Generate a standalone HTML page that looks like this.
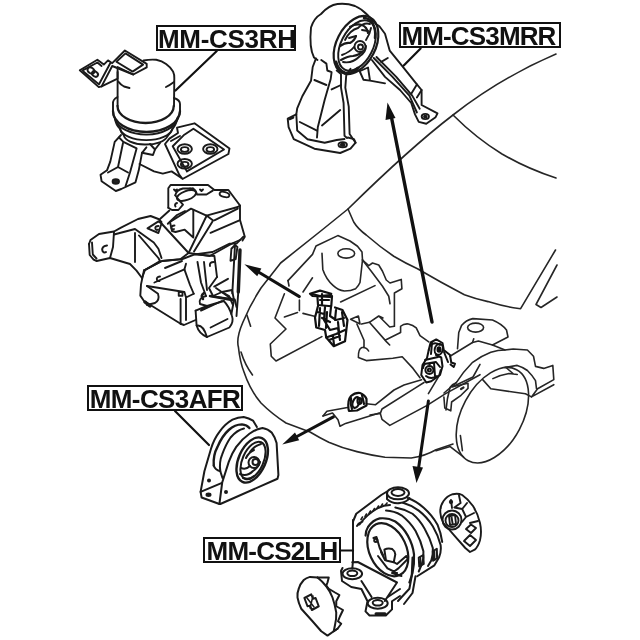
<!DOCTYPE html>
<html><head><meta charset="utf-8"><title>Engine mounts</title>
<style>
html,body{margin:0;padding:0;background:#fff;}
body{width:640px;height:640px;overflow:hidden;position:relative;font-family:"Liberation Sans",sans-serif;}
svg{position:absolute;left:0;top:0;filter:blur(0.45px);}
.lbl{position:absolute;box-sizing:border-box;border:2px solid #111;background:#fff;color:#111;font-weight:bold;font-size:26px;line-height:24.4px;text-align:center;white-space:nowrap;letter-spacing:-0.3px;filter:blur(0.4px);}
</style></head><body>
<svg width="640" height="640" viewBox="0 0 640 640" fill="none" stroke="#1a1a1a" stroke-width="1.9" stroke-linecap="round" stroke-linejoin="round">
<!--CAR-->
<g stroke-width="1.600" stroke="#262626">
<!-- hood / windshield lines -->
<path d="M556,54 Q500,78 453,115 Q410,148 348,209 L322,230 L280.600,263 L261,288 Q250,305 243,322 Q236,338 238.400,347 Q240,362 244,372 Q250,390 261,403 Q272,414 286,423 L310,432 Q320,438 328.750,442.200 Q342,448 356.900,451.600 Q370,455 385,457.200 L411.250,458 Q425,456 436,449.700 L453,444"/>
<path d="M453,115 Q476,138 502,154 Q528,169 556,178"/>
<path d="M348,209 L353.700,222 Q358,229 366.250,235 Q380,247 393.750,256.250 Q405,263 417.500,268.750 Q440,282 464.400,294.700 Q476,299 488,301.600 Q505,307 520.600,308.700 L555.500,250"/>
<path d="M557,265 L536,304.500 L541,307.500 L557,297"/>
<path d="M241,352 Q245,365 252.500,375"/>
<!-- engine bay outline -->
<path d="M288,280.600 L312.500,254.400 L316,246 L337.800,235.600 L350,241 L357.500,246.250 L362,252 L362.500,260"/>
<path d="M362.500,260 L368.750,265.600 L372.500,263 L378.750,265 L382.500,271.250 L386.250,280 L390,283 L401.250,279.400 L401.900,288.750 L394.400,293 L394.400,326.250"/>
<path d="M362.500,260 L371.250,271.250 L382.500,286.250 L388.750,296.250 L390,303.750"/>
<path d="M288,280.600 L289,286 M284.400,293.750 L275,318 L286,329 L270.300,344 L271.250,356.250 L276,361 L321.900,336.600"/>
<path d="M246.900,315 L250.600,326.250"/>
<path d="M322,253.400 L322.800,269.400 Q326,279 333,285.300 Q338,290 344.400,291 Q351,291 355.600,288.750 Q358.500,286 360,282.500 L362.500,260"/>
<ellipse cx="346.250" cy="253.400" rx="8.400" ry="4.700"/>
<path d="M312.500,277.800 L303,292"/>
<path d="M299.400,300 L299.400,310.600 M284.400,317 L297.500,312.500 M303,313.400 L314.400,316.250"/>
<path d="M340.600,302 L375,285.600"/>
<path d="M350.600,319.200 L358.400,316 L360,324 Z"/>
<path d="M361.600,324 L369.400,322.300 L378.750,316 L383,318 M378.750,316 L389.700,327 L394.400,326.250"/>
<path d="M369.400,322.300 L386.600,341.900 L389.700,345 M385,340.300 L400.600,332.500 L400.600,326.250 Q404,323.500 408.400,324 Q413,325 416.250,327.800 L420,335.600 L428.750,341.900"/>
<path d="M356.900,324 L364,340.300 L364,346.600 M368.600,351 Q366.500,347 362,347.500 Q358,349 358.400,357.500 L366.250,360.600 L392.800,358.300 L402.200,356.700 L413,368.400 L420,377.800"/>
<!-- front crossmember -->
<path d="M323,416 L326.900,411.250 L347.500,407.500 M366.250,403.750 L375.600,404.700 L394,390 L404,385 L421.600,379.800"/>
<path d="M323,416 L332.500,413 L338,419.700 L340,426.250 L345.600,423.400 L379.400,413"/>
<path d="M380.300,413.400 L382,409 L414.700,388.400 L424,382.500"/>
<path d="M370,415 L380.300,413.400 L382,419.400 L389.800,425.400 L426.700,405.600 L445.600,393.600 L480,374.700"/>
<!-- right rails -->
<path d="M428.400,393.600 L438.750,376.400 L440.500,370"/>
<path d="M443.900,397 L444.800,408 L450.800,410.800 L451.600,402 L461,395.300 L468,388.400 L468,383.300 L452.500,386.700"/>
<path d="M452.500,386.700 L473,377 L480,364.400"/>
<path d="M461,389 l2.500,-1.500" stroke-width="2.200"/>
<!-- strut tower -->
<path d="M457.500,348.750 L458.750,332.500 L461.500,325.600 Q466,320 472.800,318.600 L492.500,320 Q502,324 506.500,330 L508,337 L492.500,345 L478.400,341 L472.500,342.500"/>
<ellipse cx="475.600" cy="327.600" rx="8" ry="4.500"/>
<path d="M450,356.250 L472.500,342.500 L473.750,338.750"/>
<!-- fender -->
<path d="M492.500,345 L505,350 L513.200,349 L527.400,350 L533.500,356.250 L535.500,366.400 L543.700,368.400 L552.800,365.400 L553.800,379.600 L537.600,388.750 L531.500,396.900 L553.800,384.700"/>
<path d="M446,410 Q447,398 450,387.500 Q452,384 456.300,382.700 Q463,372 472.600,362.300 Q481,356 490.800,352.200 Q498,350 505,350"/>
<path d="M456.300,382.700 L444,393"/>
<path d="M505,367.400 L517.250,365.400 Q523,367 527.400,370.500 Q532,375 535.500,380.600 L536.500,388.750"/>
<path d="M492.900,378.600 Q500,375 509,373.500 L517.250,374.500 M506,367.500 L513,373.500"/>
<path d="M460.400,435.500 L462.400,450.700 M436,450.700 L450.200,446.600 L463.400,456.800"/>
<!-- wheel -->
<ellipse cx="492.400" cy="415.200" rx="51.500" ry="30.500" transform="rotate(-62 492.400 415.200)"/>
<path d="M482.700,379.600 L490.800,388.750 L525.400,393.800 L531.500,396.900"/>
</g>
<!-- center mount -->
<g stroke-width="2.200" stroke="#111">
<path d="M310,293.750 L320,290.600 L331.250,293.750 L330,297 L312.500,296 Z"/>
<path d="M317.500,297.500 L318,305 L331.250,306.250 L332,296 M320,300 L329,300 M322,294 L322,304"/>
<path d="M318,306 L315,317.500 L316.250,327.500 L325,330 L326.250,337.500 L333.750,346.250 L345,341.250 L347.500,320 L342.500,310 L335,307.500"/>
<path d="M320,308 L319,326 M325,307 L324,320 L330,330 L338,328 L340,340 M331,307 L330,316 L336,320 L344,318 M326.250,337.500 L336,334 L345,330 M322,318 L330,322 M336,310 L335,320 M333,336 L334,345 M317,312 L324,314 M327,312 L326,328 M338,322 L339,332 M342,312 L344,326 M329,340 L340,336 M312,294 L320,296 L330,295"/>
</g>
<!-- right mount -->
<g stroke-width="2" stroke="#111">
<path d="M428.750,350 L430.600,342.500 L436.250,339.400 L442.500,343 L443.750,350 L450,355 L451.250,362.500 L455,363.750 L453.750,367 L450.500,364.500"/>
<ellipse cx="438.750" cy="349.400" rx="4" ry="5.500" transform="rotate(15 438.750 349.400)"/>
<ellipse cx="439" cy="349.500" rx="1.500" ry="2.200" fill="#111"/>
<path d="M432,343 L431,354 M428.750,350 L427,358 L422.500,365 L421.250,375 L426.250,382.500 L431.250,381.250 L440,375 L442.500,366.250 L441.250,357.500 L436,355"/>
<circle cx="429.400" cy="370" r="4"/><circle cx="429.400" cy="370" r="1.500"/>
<path d="M425,360 L438,357 M424,364 L436,362 L440,367 M434,363 L435,376 M444,352 L448,362 M430,346 Q434,341 440,345 M426,376 Q431,380 437,376 M423,368 Q424,362 430,364"/>
</g>
<!-- front mount -->
<g stroke-width="2.200" stroke="#111">
<path d="M348.500,409 Q347.500,400 351,396 Q355,392.500 360,393 Q365,395 366.500,399 L366.500,405.500 L357,410.500 L349,411 Z"/>
<ellipse cx="356" cy="402.500" rx="3.200" ry="5.500" transform="rotate(20 356 402.500)"/>
<ellipse cx="359.500" cy="401" rx="2" ry="2.800"/>
<path d="M351,398 Q350,404 352,409 M362,395 L364,404"/>
</g>
<!--/CAR-->
<!--RH-->
<g>
<!-- top bracket -->
<path d="M79.800,70.200 L97.400,59.700 L103.800,64.600 L108,60.400 L112.200,63.200 L124.900,50.500 L146.700,63.900 L146.700,67.400 L133.300,74.500 L117.600,67 L117.600,78.700 L101.600,86.400 L98.800,87.100 Z"/>
<path d="M82.700,70.300 L97.400,62.500 L101.600,66 M83.400,71.600 L98.800,84.300 M101.600,86.400 L112.200,66 L133.300,74.500 M99,84.300 L110.100,63.500"/>
<path d="M116.400,61.800 L125.500,53.400 L143.100,64.600 L132.600,71.600 Z"/>
<ellipse cx="91" cy="70.500" rx="3.800" ry="2.800" transform="rotate(35 91 70.500)" stroke-width="2"/>
<ellipse cx="95" cy="74" rx="3.200" ry="2.400" transform="rotate(35 95 74)" stroke-width="2"/>
<!-- cylinder -->
<path d="M117.600,72 L117.600,106 M143.600,60.500 Q150,59.300 156.300,59.800 Q162,61 166.100,64 Q171,67.500 173.100,71.700 Q174.500,75 174.300,78 L174,106"/>
<path d="M118.300,81.600 Q121,85 124,86.500 L129.500,88 M174,82 Q170,85 166,87"/>
<path d="M117.500,97 Q112.500,99.500 113,104 L113,111 Q113,116 115,118.750 Q116,125 120,128.750 Q121,133 123.750,135"/>
<path d="M174,98 Q180,100 180,104 L180,111 Q180,115 177.500,118 Q176,125 172.500,128.750 Q171,133 167.500,136"/>
<path d="M117.500,106 A28.100,17 0 0 0 173.750,106" stroke-width="2.300"/>
<path d="M113,111 A33.500,21 0 0 0 180,111" stroke-width="2.300"/>
<path d="M115,118.750 A31.500,18.500 0 0 0 177.500,118"/>
<path d="M120,128.750 A26.500,13.200 0 0 0 172.500,128.750"/>
<path d="M123.750,135 A22,10 0 0 0 167.500,136"/>
<!-- left leg -->
<path d="M121,135 L114.700,141.900 L110.300,161.600 L107,170.300 L100.500,174.700 L101.600,181.250 L115.800,191 L121.250,189 L135.500,182.300 L138.750,170.300 L142,152.800 L146.400,147.300"/>
<path d="M119,137.500 L123.400,141.900 L136.600,148.400 L130,172.500 L125.600,186"/>
<path d="M123,143 L118,167 L108,172.500 M118,167 L128,172.500"/>
<ellipse cx="115.800" cy="181.500" rx="3.200" ry="2.300" fill="#222"/>
<!-- middle -->
<path d="M142,152.800 L153,155 L155,149.500 L150,144 M139.500,164 L154,171.400 L162.800,173.600 L171.600,171.400 L181.400,178"/>
<path d="M160,143 L155,149.500"/>
<!-- right plate -->
<path d="M177,127.700 L194.500,123.300 L229.500,148.400 L228.400,154 L182.500,179 L179.200,174.700 L165,144 L169.400,138.600 L178,133 L177,127.700"/>
<path d="M183.600,135.300 L193.400,128.750 L224,149.500 L186.900,171.400 L172.700,146.250 Z"/>
<path d="M171,141 L180,136"/>
<ellipse cx="184.700" cy="149" rx="7.200" ry="4.800"/><ellipse cx="184.700" cy="149.500" rx="3.800" ry="2.400"/>
<ellipse cx="210.300" cy="149" rx="7.200" ry="4.800"/><ellipse cx="210.300" cy="149.500" rx="3.800" ry="2.400"/>
<ellipse cx="184.700" cy="163.750" rx="7.200" ry="4.800"/><ellipse cx="184.700" cy="164.250" rx="3.800" ry="2.400"/>
</g>
<!--/RH-->
<!--BRK-->
<g>
<!-- left ear -->
<path d="M89,244 L90.500,240 L99,234 L114,231.500 L121,227.700 L138,219 L150.600,216 L158.400,219 L161.500,222"/>
<path d="M89,244 L89.700,255 L93.600,259.700 L96.700,261 L110,258 L130,264 L136.500,270.600 L142,278"/>
<path d="M92,242.500 L92.800,254.500 L96.500,258.500 M114,232 L113,247 L110,258"/>
<path d="M107,245.500 Q101,246.500 102.500,251 Q104,253.500 106,252" stroke-width="2"/>
<path d="M114,234.500 L135,229 L153.750,242.500 L158.400,248.750 L161.500,258 M135,233 L135,262 M139,235.500 L158.400,258 L160,261 L145,270"/>
<path d="M147.500,228.400 L158.400,221.400 L161.500,223.500 L158.400,233 Z"/>
<path d="M158.500,226 Q154.500,226 155.500,229 Q156.500,230.500 158,229.500"/>
<path d="M160,219 L169.400,210.500 M167.800,223.750 L177,215 L185,211"/>
<path d="M174.500,225.500 Q171,225.500 171.500,228.500 Q172.500,230 174,229"/>
<!-- upper plate -->
<path d="M168.300,207.800 L168.300,188.300 L170.600,185 L208,185 L214.400,190 L228.400,190 L240,205.500 L240,220 L244.800,236.700 L242.500,240.600"/>
<path d="M168.300,207.800 L172,210 L178.400,210 L183,204.700 L178,199 L175.300,195.300"/>
<ellipse cx="186.500" cy="195.500" rx="10" ry="4.500" transform="rotate(-20 186.500 195.500)"/>
<path d="M175.300,195.300 Q176,190 183,188.500 L193,188.500 Q196,190 197,194.500 L206.500,194.500 L212.800,190.600"/>
<path d="M174,189.500 l1.500,1.500 l1.500,-1.500 M190,188.500 l1.500,1.500 l1.500,-1.500 M200,189.500 l1.500,1.500 l1.500,-1.500"/>
<ellipse cx="224.500" cy="194.500" rx="5" ry="2.500" transform="rotate(15 224.500 194.500)"/>
<path d="M177,203 Q174,204 175.500,206.500"/>
<!-- box -->
<path d="M170,222 L191,208.600 L206.500,215.600 L237.800,207 L240,205.500"/>
<path d="M206.500,215.600 L212.800,220.300 M214.400,220.300 L237.800,208.600 M210.500,232.800 L239.400,220.300"/>
<path d="M193.300,210 L193.300,237.500 M170,222 L172,231 L175.500,232 L184.700,229.700 L193.300,237.500"/>
<path d="M206.500,216 L188.600,253 M212.800,221 L194,251.500"/>
<path d="M161.500,223.500 L188.600,253 L209.700,256 L233,243 L240,240"/>
<path d="M142,278 L145,270 L162,261 L180,259.400 L188.600,253"/>
<path d="M243.400,236.700 L236.500,243.600 L229.700,243.600 L212.500,252 L194.700,254.400"/>
<path d="M240,250 L238.300,292" stroke-width="3.400"/>
<path d="M238.300,292 L236.500,316"/>
<path d="M235,245 L232.300,293.400"/>
<path d="M231.400,248.750 L235,245 L237.400,247 L235.700,259 L230.500,260.800 Z"/>
<path d="M214.200,286.600 L228,278.800 M216,288 L233,300 M210,296 L234.800,299.500 L236.500,307"/>
<!-- lower arm -->
<path d="M144,270.300 L162,261 L182.500,259 L194.700,254.400 L214.400,256 L217,277"/>
<path d="M154.400,282.500 L184.400,269.400 L186,263.750 M165,268 L182,261"/>
<path d="M160,276.500 Q156,277 157,280 Q158,281.500 159.500,281"/>
<path d="M144,270.300 L141,284.400 L140.300,295.600 L144,301 L180.600,323.750 L184,325 L195.600,320"/>
<path d="M147,286 L158,293.750 Q160,300 155,303 L147,305" />
<path d="M145,302 L150,306" stroke-width="3.500"/>
<path d="M147,286 L184.400,292 L186,297.500 L193.750,293.750 M180.600,299 L180.600,324 M186,297.500 L186,320"/>
<path d="M178.750,292 l3.750,0 l0,3.750 l-3.750,0 Z"/>
<path d="M184.400,269.400 L190,285 L193.750,293.750 M197.500,262 L201,282.500 L206,296 M204,262 L207,290 M214,262 Q209,262 210,266"/>
<path d="M217,277 L209,288 L213,296 L222,292 L229,296 L233,305 M206,296 Q198,298 200,304 L207,306 L223.750,301"/>
<path d="M222,292 L232,290 L234,300 L231.400,314" />
<path d="M204,293 Q200,296 203,299 M210,296 L232,300" stroke-width="2.500"/>
<!-- bushing -->
<path d="M195.600,310.600 L196.600,325.600 Q199,334 207,337 L229.400,327.500 Q234,322 232,316 Q229,306 223.750,301"/>
<path d="M195.600,310.600 L207,306 M201,310.600 L221.900,301 M210.600,327.500 L227.500,319 M196.600,325.600 Q203,324 207,337"/>
</g>
<!--/BRK-->
<!--MRR-->
<g>
<!-- ring outer -->
<path d="M317.500,60 L314,57.500 Q309,48 311,27.500 Q314,18 321,14 Q329,5 337.500,4 Q347,3 355,6 Q362,9 367.500,15 L376,24"/>
<ellipse cx="356" cy="45" rx="31" ry="19.500" transform="rotate(-63 356 45)" stroke-width="2.200"/>
<ellipse cx="357" cy="45.500" rx="27" ry="16" transform="rotate(-63 357 45.500)"/>
<circle cx="360" cy="46.500" r="5.500"/><circle cx="360.500" cy="47" r="2.500"/>
<path d="M345,40 Q350,30 358,28 Q364,22 370,24 M342,55 Q350,52 354,47 M343,62 Q352,64 360,56 Q366,52 366,46 M366,40 Q370,34 371,28 M349,38 L356,36 M362,30 L368,31"/>
<path d="M364,18 Q370,18 373,24 Q376,30 375,38" stroke-width="2.500"/>
<path d="M336,62 Q338,70 345,73 Q352,74 358,68" stroke-width="3"/>
<path d="M350,27 Q356,23 362,25 Q367,27 368,33 M340,46 Q346,42 350,43 Q355,40 356,36 M341,60 Q348,56 353,56 Q359,55 362,52" stroke-width="2.200"/>
<!-- left leg -->
<path d="M316,58.400 L312.700,67 L311,80.800 L302.300,96.250 L297.200,108.300 L296.300,114.300 L287.700,118.600 L288.600,127.200 L293.750,139.200 L314.400,148.700 L340.200,153 L350.500,148.700 L355.600,142.700 L354,139.200 L347.900,137.500"/>
<path d="M296.300,114.300 L297.200,130.600 L307.500,139.200 L324.700,142.700 L336.700,140 L344.500,139"/>
<path d="M321.250,60 L326.400,63.600 L327.300,70.500 L331.600,72.200 L330.700,79 L324.700,99.700 L317.800,127.200 L317,137.500"/>
<path d="M314.400,80 L326.400,85 M299.800,122 L317,130.600 M322,125.500 L340.200,110 M331.600,89.400 L341,85"/>
<path d="M336.700,70.500 L341,73.900 L341,87.700 L343.600,103 L344.500,135.800 L347,138"/>
<path d="M350.500,68.750 L346.200,75.600 L345.300,87.700 L348.750,106.600 L349.600,134 L355.600,142.700"/>
<ellipse cx="342.700" cy="144.700" rx="4.200" ry="2.600"/><ellipse cx="342.700" cy="144.700" rx="1.800" ry="1.100" fill="#222"/>
<path d="M289.500,119 L293,117.500" stroke-width="2.600"/>
<!-- right arm -->
<path d="M376,24 L379.400,26.250 L385,33.750 L389.700,50.600 L401.900,65.600 L416.900,84.400 L421.600,90 L421.600,105 L437.500,113.400 L435.600,117.200 L426.250,123.750 L418.750,121.900 L415,114.400 L411.250,103 L400,90 L385,76.900 L371.900,60"/>
<path d="M373.750,58 L392.500,76.900 L409.400,95.600 L416.900,112.500 M376.500,57 L396.250,76.900 L412.200,95.600 L419.700,108.750"/>
<path d="M416.900,84.400 L411.250,93.750 M421.600,90 L416.900,97.500 M381.250,61.900 L387.800,58"/>
<ellipse cx="425.300" cy="116.500" rx="3.600" ry="2.600"/><ellipse cx="425.300" cy="116.500" rx="1.300" ry="0.900" fill="#222"/>
<path d="M359.700,71.250 L368,67.500 L370,80.600 L363.400,79.700 Z M370,80.600 L385,83.400"/>
</g>
<!--/MRR-->
<!--AFR-->
<g stroke-width="2">
<path d="M219.400,504 L222.200,482.500 L228.750,461.900 Q232,453 236.250,446.900 Q242,439 249.400,433.750 Q256,429 262.500,428 Q268,429 271.900,432.800 Q275,437 276.600,443 L278.400,475 L277.500,478.750 L220.300,504 Z"/>
<path d="M200.600,491.900 L204.400,471.250 L211,448.750 Q214,439 219.400,431.900 Q225,424 232.500,419.700 Q238,417 243.750,416.900 Q249,418 253,420.600 L256.900,427"/>
<path d="M200.600,491.900 L201.600,497.500 L219.400,504 M200.600,491.900 L222,482.800"/>
<path d="M213.750,465.600 Q213,455 217.500,446.900 Q222,436 228.750,430 Q235,424.500 241.900,424.400 Q247,425 249.400,428" stroke-width="2.400"/>
<path d="M220.300,471.250 Q219,462 222.200,454.400 Q226,444 230.600,437.500 Q237,430 244,428.500" />
<path d="M213.750,465.600 Q215,470 220.300,471.250 L222.500,478"/>
<ellipse cx="252.200" cy="460" rx="24" ry="13.500" transform="rotate(-66 252.200 460)" stroke-width="2.400"/>
<ellipse cx="253" cy="460.500" rx="20" ry="10.500" transform="rotate(-66 253 460.500)"/>
<circle cx="254" cy="462.500" r="5.500"/><circle cx="255.500" cy="462" r="3"/>
<path d="M241,468 Q246,470 250,466 M240,474 Q247,477 253,471 Q258,468 260,462 M250,452 Q254,446 261,444 M246,458 Q249,452 254,450 M243,478 Q250,480 254,476"/>
<circle cx="209" cy="480.500" r="1" fill="#111"/><ellipse cx="208.500" cy="494.800" rx="2" ry="1.200" fill="#111"/><circle cx="226" cy="492" r="1" fill="#111"/>
</g>
<!--/AFR-->
<!--LH-->
<g stroke-width="2">
<!-- top boss -->
<ellipse cx="398" cy="493.300" rx="11" ry="6"/>
<ellipse cx="398" cy="492.500" rx="6.500" ry="3.500"/>
<path d="M387,494 L387,499 Q392,504 400,503 Q407,502 409.500,498"/>
<!-- left plate -->
<path d="M387,491.500 L381.250,495 L356.250,513.750 L353,521.500 L353,560.600 L352.300,568.500"/>
<path d="M353,520 L353,551"/>
<path d="M352.300,562.300 L357.800,562 L397,582.500 L384.800,601"/>
<path d="M357,526 Q359,523 362.500,521.500 M359.500,524.500 Q366,515 378,508 Q384,505 390,505"/>
<path d="M361,519.500 l1.500,-2.500 M365,516.500 l1.500,-2.500 M369,513.500 l1.500,-2.500 M373,511 l1.500,-2.500 M377,508.500 l1.500,-2.500 M381,506.500 l1.500,-2.500 M385.500,505 l1.500,-2" stroke-width="1.600"/>
<!-- face -->
<ellipse cx="387.800" cy="549.700" rx="28" ry="18.500" transform="rotate(65 387.800 549.700)" stroke-width="2.200"/>
<path d="M365.600,535.600 Q365.500,531 368,527 Q373,520 379.700,518.400 Q388,517.500 395.300,521.500 Q403,527 407.800,535.600 Q413,545 414,554.400 Q414.500,564 412.500,573 L409.400,582.500" stroke-width="2.200"/>
<path d="M386,510.600 Q394,511 401.500,515.300 Q410,522 415.600,531 Q421,541 423.400,551.250 Q424,558 421.900,563.750 L418.750,571.500"/>
<path d="M395.300,507.500 Q404,509 412.500,513.750 Q420,520 425,529.400 Q430,538 432.800,548 Q433.500,555 431.250,560.600 L428,566"/>
<path d="M403,502.800 Q411,505 418.750,510.600 Q427,517 432.800,526.250 Q438,535 440.600,545 Q441.500,552 439,557.500 L434.400,565.300 L417.200,576.250"/>
<path d="M407.800,498 Q416,501 423.400,507.500 Q432,515 437.500,524.700 Q441,533 442.200,541.900"/>
<path d="M418.750,557.500 l4.500,-2.500 l0.500,9 l-4.500,2.500 Z M432.800,551.250 l4,-2.500 l0.300,9.500 l-4,2.500 Z"/>
<path d="M420.500,557 l0.300,9 M434.500,551 l0.300,9" stroke-width="1.400"/>
<!-- inner face details -->
<circle cx="375.800" cy="540.300" r="1.600"/>
<path d="M373.400,538 L376.500,537 L379.700,548 L383,555"/>
<path d="M384.400,549.700 Q388,547.500 392.200,549 Q395,551 395.300,554.400 L393.750,562.200 L386,560.600 Z"/>
<path d="M378,556 L387.500,568.400 L397,573 M381,552 L385,560 M393.750,562.200 L397,564 L406.250,556 L407.800,559 L398.400,568.400 L392,573 L401.500,576"/>
<!-- arm -->
<path d="M412.500,557.500 L411.700,576.250 L409.400,588.750 L398,601 M415.500,576.250 L412.500,593 L404,604"/>
<!-- bottom-left boss -->
<ellipse cx="352.300" cy="573.800" rx="9.800" ry="5.500"/>
<ellipse cx="352.300" cy="573.300" rx="5" ry="2.800"/>
<path d="M342.500,568 L341,571 L342,581 L351.250,587 L361.400,589 L367.500,601.250 L365.500,611.400 L369.500,615.500 L385.800,615.500 L392,609.400 L392,601.250 L400,596"/>
<path d="M361.400,581 L371.600,597"/>
<ellipse cx="377.700" cy="603.300" rx="10" ry="5.500"/>
<ellipse cx="377.700" cy="602.800" rx="5" ry="2.800"/>
<path d="M376,613.800 L385,613.800" stroke-width="3"/>
<path d="M387.800,597 L400,589"/>
</g>
<!-- bottom-left cover -->
<g stroke-width="2">
<path d="M317.500,577.500 L310,576.900 Q306,578 303.750,580 Q300,584 298.750,588.750 Q297,593 297.500,597.500 Q298.500,603 301.250,608.750 L312.500,621.250 L321.250,631.250 L327.500,635.600 L333.750,631.250 L337.500,628.750"/>
<path d="M317.500,577.500 L328.750,577.500 L327.500,582.500 L326.250,585.600 L328.750,588.750 L335,592.500 L339.400,595 L336.250,601.250 L336.250,606.250 L343,610 L340,616.250 L338,621.250 L341.250,623.750 L337.500,628.750 L333.750,631.250"/>
<path d="M317.500,577.500 Q322,581 326.250,586.250 Q330,591 332.500,597.500 Q335,605 336.250,612.500 Q336.500,619 335,625 L333.750,631.250"/>
<path d="M304.400,598 L311.250,594.400 L313,598.750 L315.600,598 L318.750,606.250 L311.900,610 L310,605.600 L307.500,606.250 Z"/>
<path d="M307,598 L314,607 M313,596 L310,608" stroke-width="1.500"/>
</g>
<!-- right small piece -->
<g stroke-width="1.900">
<path d="M440.300,512.200 Q440,506 443.400,501.250 Q447,496 452.800,494.200 Q458,493 462.200,495 Q468,499 473,506 Q478,514 480,523 Q482,532 480,540.300 Q478,547 474.700,549.700 L470,552 L465.300,548 L454.400,535.600 L443.400,523 Q440.500,518 440.300,512.200 Z"/>
<circle cx="452" cy="520" r="9.500"/><circle cx="452" cy="520.500" r="6.500"/>
<path d="M449,516 L455,515 L456,524 L450,525 Z M451.500,517 L452.500,523"/>
<path d="M459,495.500 L460.600,503 L454.400,507.500 L462.200,509 L467,503 M451,500 L452,508 M462.200,509 L466,517 L474,513 M466,517 L462,522 M470,523 L478,521"/>
<path d="M466,529 L471,524.500 L476,528 L471,533 Z M464,541 L470,535 L476,540 L470,546 Z"/>
<circle cx="451" cy="502" r="1.200" fill="#111"/>
</g>
<!--/LH-->
<!--ARROWS-->
<g stroke-width="2.200" stroke="#111">
<path d="M216.800,51 L175.500,90.500"/>
<path d="M420.600,48.500 L403.750,65.600"/>
<path d="M175,411 L209,445"/>
<path d="M340,550.500 L353,550.500"/>
</g>
<g stroke-width="3" stroke="#111">
<path d="M432,322 L391,115" stroke-width="3.400"/>
<path d="M299.400,296.600 L258,271.700"/>
<path d="M333.400,416.900 L296,437"/>
<path d="M428.400,401 L418.300,470"/>
</g>
<g fill="#111" stroke="none">
<path d="M387.500,102.500 L385.500,120 L395.500,118 Z"/>
<path d="M244.300,264.200 L261.400,268.600 L257.200,276.200 Z"/>
<path d="M282.200,444.600 L299.200,440.200 L295,432.600 Z"/>
<path d="M416.500,483 L412.500,466 L423,467.500 Z"/>
</g>
<!--/ARROWS-->
</svg>
<div class="lbl" style="left:156px;top:25px;width:140px;height:26px;padding-right:2px;">MM-CS3RH</div>
<div class="lbl" style="left:399px;top:22px;width:162px;height:26px;padding-right:3px;letter-spacing:-0.85px;">MM-CS3MRR</div>
<div class="lbl" style="left:87px;top:385px;width:156px;height:26px;letter-spacing:-0.6px;">MM-CS3AFR</div>
<div class="lbl" style="left:203px;top:537px;width:138px;height:26px;letter-spacing:-0.8px;">MM-CS2LH</div>
</body></html>
